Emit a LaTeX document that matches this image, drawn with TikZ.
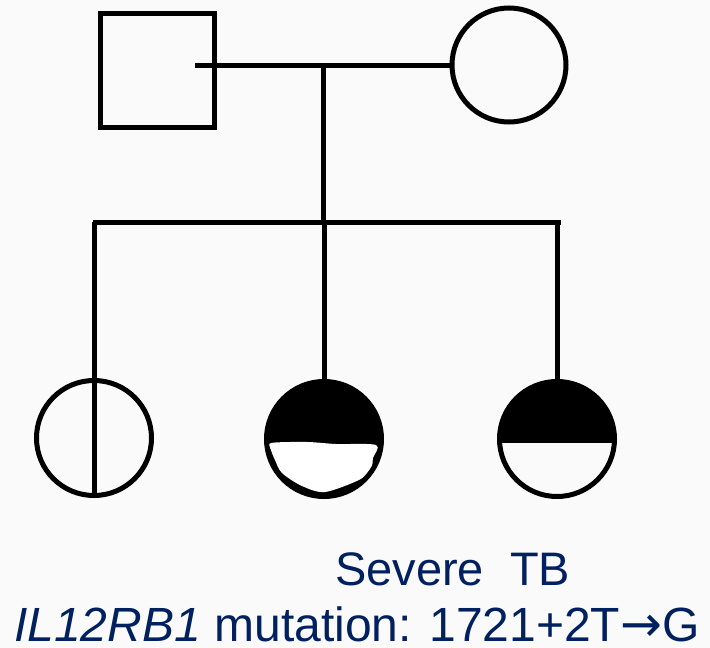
\documentclass[tikz,border=0pt]{standalone}
\usepackage{fontspec}
\setmainfont{Liberation Sans}
\newfontfamily\arrowfont{DejaVu Sans}
\definecolor{navy}{RGB}{0,32,96}
\definecolor{bg}{RGB}{250,250,250}
\begin{document}
\begin{tikzpicture}[x=1pt,y=-1pt,
  lw/.style={line width=5pt},
  male/.style={draw, lw, rectangle, minimum size=114pt, inner sep=0pt, outer sep=0pt},
  female/.style={draw, lw, circle, minimum size=114pt, inner sep=0pt, outer sep=0pt},
  kid/.style={draw, lw, circle, minimum size=115pt, inner sep=0pt, outer sep=0pt},
  link/.style={lw},
  label/.style={text=navy, inner sep=0pt, anchor=base west}]
\fill[bg] (0,0) rectangle (710,648);
\useasboundingbox (0,0) rectangle (710,648);
% half fills
\begin{scope}
  \clip (324,439) circle (57.5pt);
  \fill (260,370) rectangle (390,500);
  \fill[white] plot[smooth cycle] coordinates {(271,443) (307,442) (336,444) (376,445) (373,458) (371,470) (359,480) (325,492) (302,486) (282,473) (275,460) (271,450)};
\end{scope}
\begin{scope}
  \clip (557,439) circle (57.5pt);
  \fill (490,370) rectangle (630,443);
\end{scope}
% nodes
\node[male] (father) at (157.5,70.5) {};
\node[female] (mother) at (509,65) {};
\node[kid] (c1) at (94,438) {};
\node[kid] (c2) at (324,439) {};
\node[kid] (c3) at (557,439) {};
\coordinate (mstart) at (195,65);
\coordinate (mid) at (323,65);
\coordinate (sibL) at (93,222);
\coordinate (sibR) at (561,222);
\coordinate (sibM) at (323,222);
% connectors
\draw[link] (mstart) -- (mother.west);
\draw[link] (mid) -- (sibM);
\draw[link] (sibL) -- (sibR);
\draw[link] (sibL -| c1) -- (c1.south);
\draw[link] (sibM -| c2) -- (c2.north);
\draw[link] (sibR -| c3) -- (c3.north);
% text
\node[label, font=\fontsize{47}{54}\selectfont] (t1) at (335,585) {Severe\ \ TB};
\node[label, font=\fontsize{48}{56}\selectfont] (t2) at (14,641) {\textit{IL12RB1} mutation: 1721+2T{\arrowfont\fontsize{50}{50}\selectfont →}G};
\end{tikzpicture}
\end{document}
